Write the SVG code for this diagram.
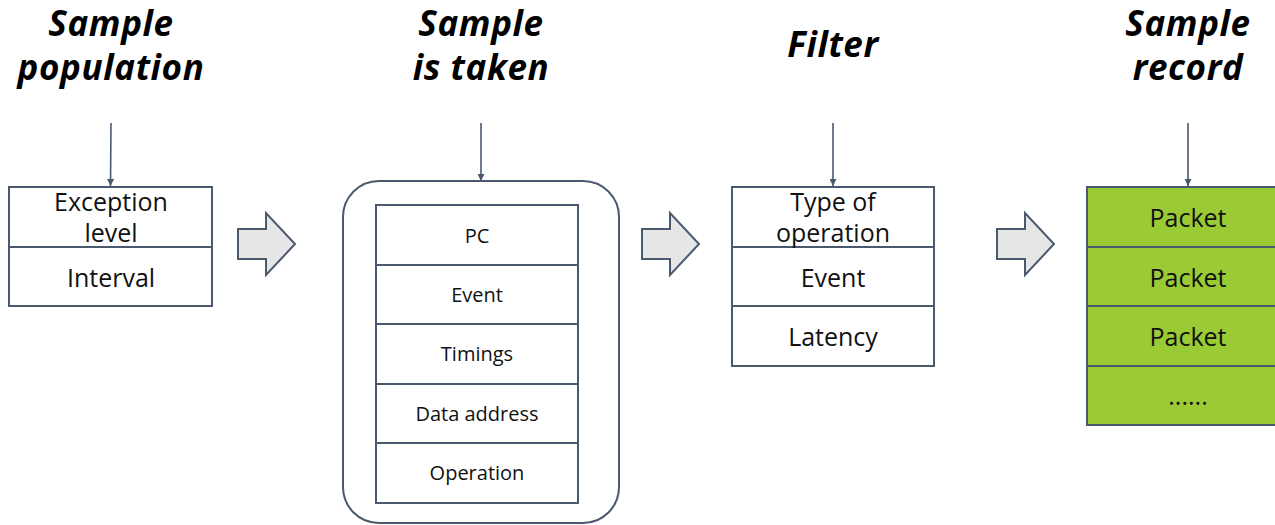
<svg xmlns="http://www.w3.org/2000/svg" width="1275" height="525" viewBox="0 0 1275 525">
  <style>
    .title { font-family: "Open Sans", Lato, "Liberation Sans", sans-serif; font-weight: bold; font-style: italic; font-size: 35px; letter-spacing: 0.6px; fill: #000; text-anchor: middle; }
    .cell { fill: #fff; stroke: #4a596e; stroke-width: 2; }
    .pkt { fill: #9acb34; stroke: #4a596e; stroke-width: 2; }
    .lbl { font-family: "Open Sans", Lato, "Liberation Sans", sans-serif; font-size: 25px; fill: #111; text-anchor: middle; }
    .sm { font-family: "Open Sans", Lato, "Liberation Sans", sans-serif; font-size: 20px; fill: #111; text-anchor: middle; }
    .feed { stroke: #4a596e; stroke-width: 1.6; fill: none; marker-end: url(#tip); }
    .flow { fill: #e6e6e6; stroke: #4a596e; stroke-width: 2; }
  </style>
  <defs>
    <marker id="tip" viewBox="0 0 10 10" refX="10" refY="5" markerWidth="7" markerHeight="7" markerUnits="userSpaceOnUse" orient="auto">
      <path d="M0,0 L10,5 L0,10 z" fill="#4a596e"/>
    </marker>
    <path id="block" d="M0,16 L28,16 L28,0 L57,31 L28,62 L28,46 L0,46 z"/>
  </defs>

  <!-- stage headings -->
  <g id="headings">
    <text class="title" x="111" y="36">Sample</text>
    <text class="title" x="111" y="80">population</text>
    <text class="title" x="481" y="36">Sample</text>
    <text class="title" x="481" y="80">is taken</text>
    <text class="title" x="833" y="57">Filter</text>
    <text class="title" x="1188" y="36">Sample</text>
    <text class="title" x="1188" y="80">record</text>
  </g>

  <!-- connectors: feed lines and block arrows between stages -->
  <g id="connectors">
    <line class="feed" x1="111" y1="123" x2="110.5" y2="186"/>
    <line class="feed" x1="481" y1="123" x2="481" y2="181"/>
    <line class="feed" x1="833" y1="123" x2="833" y2="186"/>
    <line class="feed" x1="1188" y1="123" x2="1188" y2="186"/>
    <use href="#block" class="flow" x="238" y="213"/>
    <use href="#block" class="flow" x="642" y="213"/>
    <use href="#block" class="flow" x="997" y="213"/>
  </g>

  <!-- sample population -->
  <g id="population">
    <rect class="cell" x="9" y="187" width="203" height="60"/>
    <rect class="cell" x="9" y="247" width="203" height="59"/>
    <text class="lbl" x="111" y="211">Exception</text>
    <text class="lbl" x="111" y="242">level</text>
    <text class="lbl" x="111" y="287">Interval</text>
  </g>

  <!-- sample taken -->
  <g id="sample">
    <rect x="343" y="181" width="276" height="342" rx="36" ry="36" fill="#fff" stroke="#4a596e" stroke-width="2"/>
    <rect class="cell" x="376" y="205" width="202" height="60"/>
    <rect class="cell" x="376" y="265" width="202" height="59"/>
    <rect class="cell" x="376" y="324" width="202" height="60"/>
    <rect class="cell" x="376" y="384" width="202" height="59"/>
    <rect class="cell" x="376" y="443" width="202" height="60"/>
    <text class="sm" x="477" y="243">PC</text>
    <text class="sm" x="477" y="302">Event</text>
    <text class="sm" x="477" y="361">Timings</text>
    <text class="sm" x="477" y="421">Data address</text>
    <text class="sm" x="477" y="480">Operation</text>
  </g>

  <!-- filter -->
  <g id="filter">
    <rect class="cell" x="732" y="187" width="202" height="60"/>
    <rect class="cell" x="732" y="247" width="202" height="59"/>
    <rect class="cell" x="732" y="306" width="202" height="60"/>
    <text class="lbl" x="833" y="211">Type of</text>
    <text class="lbl" x="833" y="242">operation</text>
    <text class="lbl" x="833" y="287">Event</text>
    <text class="lbl" x="833" y="346">Latency</text>
  </g>

  <!-- sample record -->
  <g id="record">
    <rect class="pkt" x="1087" y="187" width="200" height="60"/>
    <rect class="pkt" x="1087" y="247" width="200" height="59"/>
    <rect class="pkt" x="1087" y="306" width="200" height="60"/>
    <rect class="pkt" x="1087" y="366" width="200" height="59"/>
    <text class="lbl" x="1188" y="227">Packet</text>
    <text class="lbl" x="1188" y="287">Packet</text>
    <text class="lbl" x="1188" y="346">Packet</text>
    <text class="lbl" x="1188" y="405">......</text>
  </g>
</svg>
